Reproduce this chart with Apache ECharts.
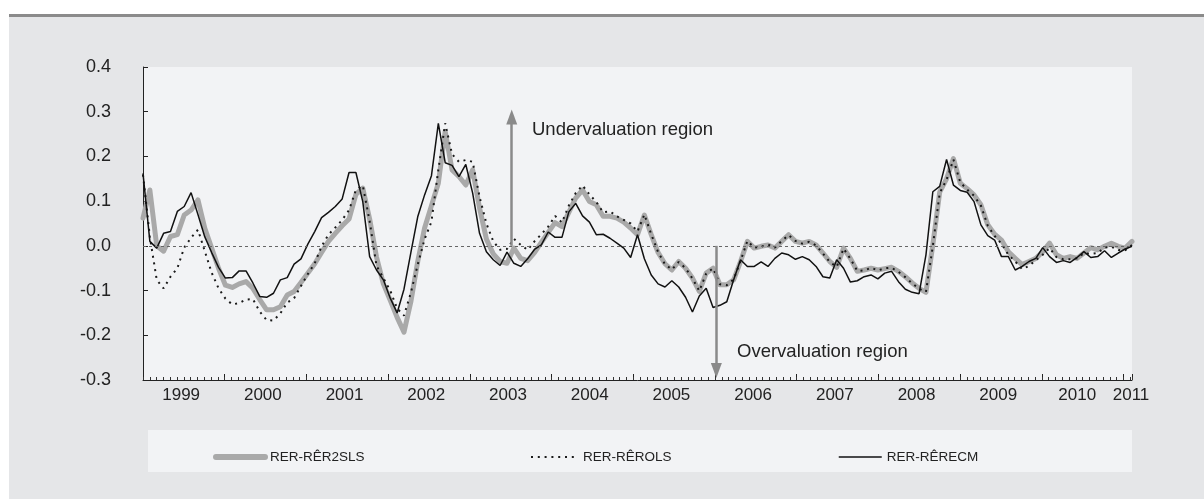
<!DOCTYPE html>
<html><head><meta charset="utf-8">
<script src="https://cdn.jsdelivr.net/npm/echarts@6/dist/echarts.min.js"></script>
<style>
html,body{margin:0;padding:0;background:#fff;}
#panel{position:absolute;left:9px;top:14px;width:1195px;height:485px;background:#e5e6e8;border-top:3px solid #8b8b8b;box-sizing:border-box;}
#chart{position:absolute;left:0;top:0;width:1204px;height:499px;}
</style></head><body>
<div id="panel"></div><div id="chart"></div>
<script>
// Monthly categories 1999-01 .. 2011-01
const startYear = 1999;
const monthCount = 145;
const months = [];
for (let k = 0; k < monthCount; k++) {
  months.push((startYear + Math.floor(k / 12)) + '-' + String(k % 12 + 1).padStart(2, '0'));
}
const yearLabels = ['1999','2000','2001','2002','2003','2004','2005','2006','2007','2008','2009','2010','2011'];
const yearLabelPos = [5.6,17.6,29.6,41.6,53.6,65.6,77.6,89.6,101.6,113.6,125.6,137.2,145.1];

const rer2sls = [
0.062,0.125,0.000,-0.012,0.021,0.025,0.069,0.080,0.103,0.039,
-0.005,-0.050,-0.088,-0.093,-0.085,-0.080,-0.095,-0.120,-0.143,-0.143,
-0.136,-0.110,-0.102,-0.082,-0.061,-0.040,-0.015,0.010,0.028,0.045,
0.060,0.115,0.129,0.060,-0.025,-0.085,-0.122,-0.160,-0.193,-0.125,
-0.035,0.040,0.090,0.140,0.256,0.170,0.155,0.136,0.170,0.085,
0.015,-0.018,-0.035,-0.039,-0.005,-0.028,-0.033,-0.015,0.008,0.030,
0.052,0.043,0.075,0.107,0.125,0.099,0.092,0.066,0.066,0.062,
0.053,0.040,0.025,0.069,0.025,-0.015,-0.040,-0.054,-0.035,-0.050,
-0.072,-0.102,-0.061,-0.050,-0.087,-0.087,-0.076,-0.035,0.010,-0.005,
-0.001,0.002,-0.005,0.010,0.025,0.010,0.006,0.010,0.002,-0.016,
-0.035,-0.048,-0.005,-0.028,-0.057,-0.054,-0.050,-0.054,-0.051,-0.048,
-0.057,-0.069,-0.083,-0.095,-0.104,0.002,0.120,0.150,0.195,0.140,
0.128,0.114,0.092,0.047,0.026,0.013,-0.013,-0.028,-0.042,-0.035,
-0.028,-0.013,0.006,-0.020,-0.028,-0.024,-0.028,-0.016,-0.004,-0.009,
-0.001,0.006,-0.001,-0.005,0.010
];
const rerOls = [
0.159,0.020,-0.076,-0.095,-0.069,-0.050,-0.004,0.018,0.036,-0.012,
-0.060,-0.095,-0.118,-0.131,-0.128,-0.120,-0.119,-0.147,-0.166,-0.167,
-0.151,-0.127,-0.117,-0.090,-0.063,-0.039,-0.001,0.025,0.041,0.058,
0.080,0.125,0.135,0.055,-0.045,-0.072,-0.100,-0.140,-0.156,-0.105,
-0.042,0.015,0.054,0.170,0.274,0.205,0.188,0.192,0.188,0.110,
0.050,0.010,-0.009,-0.007,0.016,0.002,-0.009,0.010,0.026,0.043,
0.067,0.052,0.090,0.118,0.135,0.115,0.098,0.075,0.077,0.066,
0.058,0.050,0.032,0.070,0.026,-0.014,-0.041,-0.053,-0.036,-0.050,
-0.073,-0.101,-0.062,-0.050,-0.086,-0.088,-0.075,-0.034,0.011,-0.004,
-0.002,0.003,-0.004,0.011,0.024,0.011,0.005,0.009,0.001,-0.017,
-0.036,-0.047,-0.006,-0.029,-0.056,-0.055,-0.049,-0.055,-0.050,-0.049,
-0.058,-0.070,-0.084,-0.096,-0.103,0.000,0.118,0.148,0.193,0.142,
0.126,0.112,0.090,0.045,0.022,0.005,-0.020,-0.035,-0.052,-0.045,
-0.032,-0.020,-0.005,-0.025,-0.030,-0.030,-0.028,-0.016,-0.018,-0.016,
-0.004,-0.002,-0.009,-0.010,0.002
];
const rerEcm = [
0.162,0.010,-0.005,0.028,0.032,0.077,0.088,0.119,0.070,0.020,
-0.015,-0.048,-0.072,-0.071,-0.056,-0.056,-0.083,-0.113,-0.115,-0.106,
-0.076,-0.071,-0.041,-0.029,0.004,0.032,0.063,0.075,0.088,0.105,
0.164,0.164,0.099,-0.024,-0.054,-0.076,-0.117,-0.150,-0.097,-0.015,
0.065,0.114,0.157,0.274,0.186,0.180,0.155,0.182,0.118,0.028,
-0.013,-0.031,-0.044,-0.014,-0.039,-0.046,-0.029,-0.008,0.002,0.031,
0.019,0.019,0.076,0.095,0.067,0.053,0.025,0.026,0.017,0.006,
-0.005,-0.026,0.025,-0.029,-0.065,-0.085,-0.092,-0.078,-0.092,-0.115,
-0.148,-0.112,-0.095,-0.138,-0.133,-0.125,-0.076,-0.031,-0.046,-0.046,
-0.036,-0.046,-0.028,-0.016,-0.020,-0.030,-0.024,-0.031,-0.046,-0.069,
-0.072,-0.031,-0.050,-0.081,-0.078,-0.069,-0.065,-0.074,-0.061,-0.057,
-0.080,-0.097,-0.104,-0.107,-0.020,0.121,0.133,0.193,0.136,0.124,
0.120,0.099,0.047,0.023,0.013,-0.024,-0.024,-0.054,-0.046,-0.035,
-0.028,-0.004,-0.024,-0.037,-0.033,-0.037,-0.026,-0.013,-0.026,-0.024,
-0.011,-0.026,-0.016,-0.007,-0.001
];
// annotation arrow anchors (in months on the tick axis)
const underArrowX = 54.15, overArrowX = 84.2;

const FONT = 'Liberation Sans';
const legendText = {fontSize: 13.5, color: '#222', fontFamily: FONT};
const chart = echarts.init(document.getElementById('chart'));
chart.setOption({
  animation: false,
  backgroundColor: 'transparent',
  textStyle: {fontFamily: FONT},
  grid: {left: 143, right: 72, top: 67, bottom: 119, show: true, backgroundColor: '#f2f3f5', borderWidth: 0},
  xAxis: [
    {type: 'category', data: months, boundaryGap: false, show: false, position: 'bottom'},
    {type: 'value', position: 'bottom', min: 0, max: 145.24, interval: 12,
     axisLine: {show: true, onZero: false, lineStyle: {color: '#222', width: 1}},
     axisTick: {show: true, inside: true, length: 6, lineStyle: {color: '#222'}},
     axisLabel: {customValues: yearLabelPos, formatter: v => yearLabels[Math.floor(v / 12)],
                 fontSize: 17, color: '#222', margin: 7},
     splitLine: {show: false}},
    {type: 'value', position: 'bottom', min: 0, max: 145.24, interval: 1,
     axisLine: {show: false, onZero: false},
     axisTick: {show: true, inside: true, length: 3, lineStyle: {color: '#333'}},
     axisLabel: {show: false}, splitLine: {show: false}}
  ],
  yAxis: {type: 'value', min: -0.3, max: 0.4, interval: 0.1,
    axisLine: {show: true, onZero: false, lineStyle: {color: '#222', width: 1}},
    axisTick: {show: true, inside: true, length: 5, lineStyle: {color: '#222'}},
    axisLabel: {formatter: v => v.toFixed(1), fontSize: 18, color: '#222', margin: 32},
    splitLine: {show: false}},
  legend: [
    {data: ['RER-RÊR2SLS'], left: 213, top: 450, padding: 0, itemWidth: 49, itemHeight: 14,
     itemStyle: {opacity: 0}, lineStyle: {width: 6, cap: 'round'}, textStyle: legendText},
    {data: ['RER-RÊROLS'], left: 530, top: 450, padding: 0, itemWidth: 47, itemHeight: 14,
     itemStyle: {opacity: 0}, lineStyle: {width: 2}, textStyle: legendText},
    {data: ['RER-RÊRECM'], left: 838, top: 450, padding: 0, itemWidth: 43, itemHeight: 14,
     itemStyle: {opacity: 0}, lineStyle: {width: 1.5}, textStyle: legendText}
  ],
  graphic: [
    {type: 'rect', left: 148, top: 430, shape: {width: 984, height: 42}, style: {fill: '#f2f3f5'}, z: -10, silent: true},
    {type: 'text', left: 532, top: 120, style: {text: 'Undervaluation region', font: '18.5px "Liberation Sans"', fill: '#222'}},
    {type: 'text', left: 737, top: 342, style: {text: 'Overvaluation region', font: '18.5px "Liberation Sans"', fill: '#222'}}
  ],
  series: [
    {type: 'line', name: 'annotations', xAxisIndex: 1, data: [], z: 1, silent: true,
     markLine: {silent: true, symbol: ['none', 'none'], label: {show: false},
       lineStyle: {color: '#666', type: [3, 3], width: 1}, data: [{yAxis: 0}]}},
    {type: 'line', name: 'arrows', xAxisIndex: 1, data: [], z: 1, silent: true,
     markLine: {silent: true, symbol: ['none', 'triangle'], symbolSize: [11, 15], label: {show: false},
       lineStyle: {color: '#8a8a8a', type: 'solid', width: 2.5},
       data: [[{coord: [underArrowX, 0]}, {coord: [underArrowX, 0.288]}],
              [{coord: [overArrowX, 0]}, {coord: [overArrowX, -0.279]}]]}},
    {type: 'line', name: 'RER-RÊR2SLS', xAxisIndex: 0, data: rer2sls, symbol: 'none', z: 2,
     lineStyle: {color: '#a9a9a9', width: 5, cap: 'round', join: 'round'}, itemStyle: {color: '#a9a9a9'}},
    {type: 'line', name: 'RER-RÊROLS', xAxisIndex: 0, data: rerOls, symbol: 'none', z: 3,
     lineStyle: {color: '#1a1a1a', width: 2, type: [2, 4.8]}, itemStyle: {color: '#1a1a1a'}},
    {type: 'line', name: 'RER-RÊRECM', xAxisIndex: 0, data: rerEcm, symbol: 'none', z: 4,
     lineStyle: {color: '#111', width: 1.5}, itemStyle: {color: '#111'}}
  ]
});
</script>
</body></html>
